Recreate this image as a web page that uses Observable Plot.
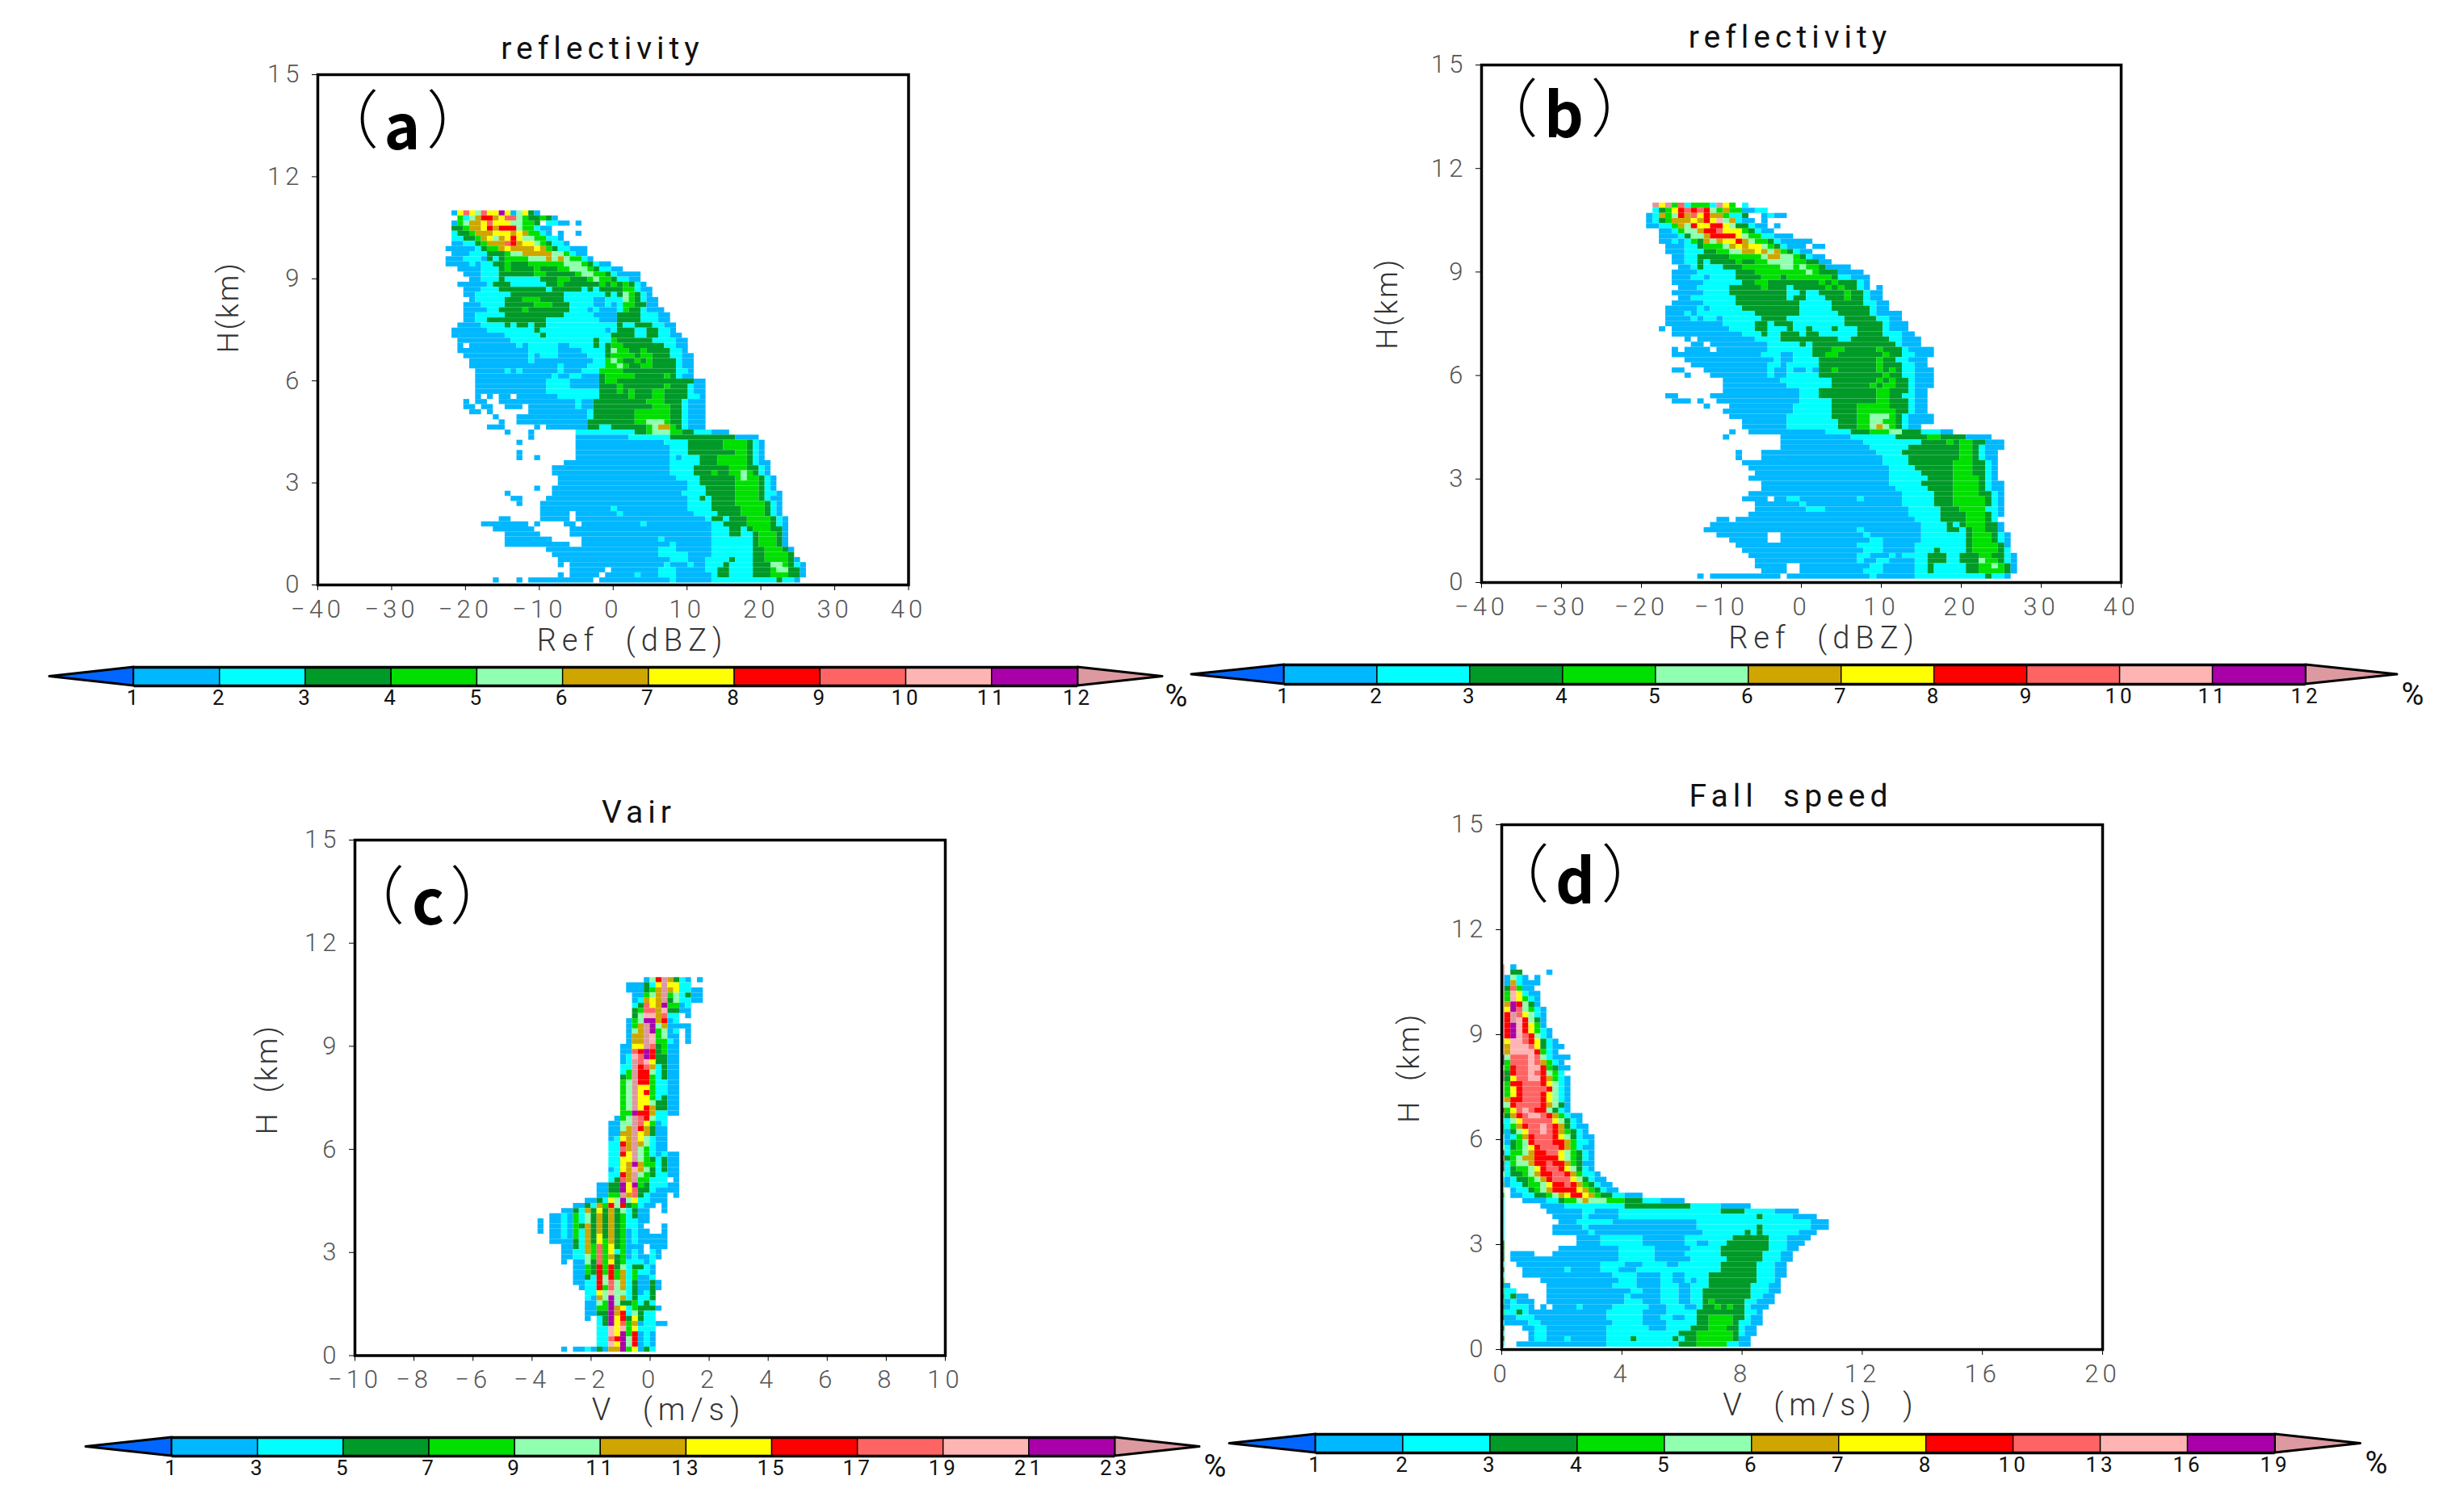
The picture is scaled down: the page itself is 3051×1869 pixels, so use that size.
<!DOCTYPE html>
<html><head><meta charset="utf-8">
<script src="https://cdn.jsdelivr.net/npm/d3@7"></script>
<script src="https://cdn.jsdelivr.net/npm/@observablehq/plot@0.6"></script>
<style>
html,body{margin:0;padding:0;background:#fff}
#page{position:relative;width:3051px;height:1869px;overflow:hidden;background:#fff}
#page svg{position:absolute;background:transparent;overflow:visible}
.tick-lab text{letter-spacing:5px}
.title-lab text{letter-spacing:6px}
.axis-lab text{letter-spacing:7px}
.yaxis-lab text{letter-spacing:2.5px}
.bar-lab text{letter-spacing:4px}
</style></head><body><div id="page"></div>
<script>
// Class colours: a=first band … k=last band, l=above-scale
const classKeys = ["a","b","c","d","e","f","g","h","i","j","k","l"];
const classColors = ["#00b8ff","#00ffff","#009a28","#00e000","#90ffb0","#cfa600","#ffff00","#ff0000","#ff6464","#ffb4b4","#aa00aa","#dd99a0"];
const belowColor = "#0066ff";

const levelsA = [1,2,3,4,5,6,7,8,9,10,11,12];
const levelsB = [1,2,3,4,5,6,7,8,9,10,11,12];
const levelsC = [1,3,5,7,9,11,13,15,17,19,21,23];
const levelsD = [1,2,3,4,5,6,7,8,10,13,16,19];

const ticksRef = [-40,-30,-20,-10,0,10,20,30,40];
const ticksVair = [-10,-8,-6,-4,-2,0,2,4,6,8,10];
const ticksFall = [0,4,8,12,16,20];
const ticksH = [0,3,6,9,12,15];

// Rows listed top (11 km) to bottom. "start a3 b2 ." = run lengths; "25a31b32" = bin edges and classes.
const rowsA = [
"22 a g i g e i g2 k g a e g c a",
"23 d b e f h2 f g i2 e d c2 d c a",
"22 a d e f2 g i g3 e2 d2 c . b2 a2 . a",
"22 c2 d f2 g h f h3 e d2 b a2",
"22 b c2 d f3 g3 f g f d2 b a . a .2 a",
"22 b2 c2 d f g e f g h g e2 d2 b2 a",
"22 a2 b2 c d f3 i h f g2 e d c b2 a",
"21 a5 b c d2 f g f4 g f d c b2 a3",
"22 a3 b3 c3 d e2 f5 e2 d b a2",
"21 a3 b3 a c b c d4 e3 f e f e d2 b a",
"21 a4 b a b2 c2 d c3 d6 e3 d c b a2",
"23 a4 b3 c d c4 d c3 d2 e3 d c b2 a2",
"24 a3 b3 c6 d2 c5 d e2 d2 c b a4",
"25 a2 b3 c b6 c3 d2 c3 d e d2 c b2 a2",
"23 a5 b c3 b6 c2 d c6 d c d c d c b a",
"24 a3 b3 c8 b c5 b c b c4 d2 b a2",
"24 a2 b6 c9 b7 c b c e d c b a",
"25 a b5 c3 d3 c4 b5 a2 b3 e d c b a2",
"24 a3 b4 c5 d3 c3 b4 a2 b a b d2 c2 a2",
"24 a4 b2 c4 d c7 b3 a b a3 b d c2 b a3",
"24 a2 b5 c10 b5 a4 c4 b3 a2",
"24 a2 b2 c10 b9 a3 c4 b3 a2",
"23 a4 b4 c b c2 b c2 b12 c b2 c3 b2 a2",
"22 a6 b8 c b11 a b c3 b2 c2 b2 a",
"22 a9 b6 c b11 c4 b2 c2 b2 a2",
"23 a9 b14 c b2 d c6 b4 a2",
"23 a . a8 b a b5 a2 b4 c b c d2 c7 b2 a2",
"23 a12 b5 a4 b4 c e d2 c2 d c4 b2 a",
"24 a11 b a b3 a5 b3 c d4 c d2 c3 b2 a2",
"25 a10 b a10 b2 d e d c2 d c d c4 b a2",
"25a40b41a45b48d50e51d52c54d56c60b61a63",
"26a31b32a33b34a40b41a44b47d51c60b62a63",
"26a39b40a42b44a47c48d53c58d59c60b61a63",
"26a38b42a47c48d50c63a65",
"26a38b42a47c50d51c58d59c62b63a65",
"26a38b47c50d51c52d53c56d58c62b63a65",
"26a27.28a29.30a32.33a40b47c52d53c56d58c62b64a65",
"24a25.26a28.30a43b44a46c55d58c61b62a65",
"24a26.27a29.31a34.35a43b44a46c56d59c61b62a65",
"25a27.28a29.35a45b46c53d59c61b62a65",
"29a30.33a45b46c53d59c61b62a65",
"30a31.33a45c53d55e58d59c61b62a65",
"28a31.36a37.38a45c47b49c55d56e57f59d60c61b62a65",
"31a32.35a36.43b53c55d56e59d61c63b66a69",
"35a36.43a52b59c70a74",
"33a34.43a58b62c68d72c73b74a75",
"43a59b62c68d72c73b74a75",
"33a34.43a59b62c70d72c73b74a75",
"33a34.36a37.43a59b60a61b64c67d72c73b74a75",
"41a59b64c67d72c73b74a76",
"39a59b63c69d72c74b75a76",
"39a59b63c66d67c69d71e72d73c74b75a76",
"40a60b64c70d71e72d74c75b76a77",
"40a62b64c70d74c75b76a77",
"36a37.39a62b65c70d74c75b76a77",
"31a32.39a61b65c70d74c75b77a78",
"32a34.38a62b64c65b66c70d74c75b76a78",
"33a34.37a62b66c70d75c76b77a78",
"37a49b50a62b66c71d75c76b77a78",
"37a42.43a50b51a63b67c71d75c76b77a78",
"30a32.37a42.43a65b66c68b69c72d76c77b78a79",
"27a35.36a37.41a43.44a54b55a66b68c72d76c77b78a79",
"29a36.42a66b69c71b72c73d76c78a79",
"31a37.42a66b69c71b73c74d77c78a79",
"31a39.44a57b58a66b73c74d77c78a79",
"31a42.44a59b60a66b73c74d77c78a79",
"38a57b60a66b73c75d78c79a80",
"39a57b62a66b73c75d79c80",
"40a59b62a65b69c70b73c75d79c80a81",
"40a41.42a58b59a62b63a65b68c69b73c76e78d79c80b81a82",
"42a48.49a57b60a65b67c69b73c76d77e79c81a82",
"40a41.42a47.48a53b54a57b60a66b67c69b73c76d79c81a82",
"29a30.33a34.35a46.47a59b60a66b77c78b80a81"
];

const rowsB = [
"26 l g l d i b d3 b l g d . b",
"26 b c d g h i h i h e d f d2 a2 b2",
"25 a b f d e h f i g h f2 d b2 c .2 a b a2",
"25 a b c d f3 g f h g j e f b a2 . a",
"25 a2 b2 d f e h g2 h2 g e c2 b a2 . a",
"27 a2 b d e2 f h2 i g3 d c b a2",
"27 a3 b c e2 f h4 g e d2 b2 a3",
"27 a2 b a b d c f e f g2 h f e d2 c b a5",
"28 a3 b2 c d3 e f g f g2 e d c b a3 . a2",
"28 a3 b3 c2 d2 e2 f2 g f e f d c b a2",
"29 a2 b2 c5 d5 e f2 e2 d c b a2",
"29 a2 b2 c b c4 d c2 d2 e4 d2 c2 a2",
"30 a2 b c b3 c3 d6 e2 d e d2 c a4",
"29 a4 b6 c3 d8 e d c3 a4",
"29 a3 b2 a b4 c4 d3 c d7 c b2 a3",
"29 a5 b6 c2 d2 c8 d c d c3 b a",
"30 a3 b5 c5 d c3 b c5 d c d c2 b a . a",
"29 a5 b4 c9 b2 c b2 c4 d c2 b a2",
"30 a2 b7 c8 b c2 b3 c3 d c2 b a2",
"29 a5 b5 c10 b5 c5 b2 a2",
"28 a5 b a b5 c9 b5 c6 b a2",
"28 a3 b a b9 c7 b6 c5 b a4",
"28 a4 b a b2 a b6 c4 b9 c5 b2 a2",
"28 a9 b5 c2 b c3 b8 c6 b a3",
"27 a . a9 b4 c2 b3 c b2 c b3 c b3 c4 b a3",
"29 a11 b3 c b2 c3 b c2 b6 c4 b3 a2",
"31 a . a9 b4 c9 b2 c6 b2 a3",
"32 a2 . a9 b5 c b c13 b a3",
"29a30.31a35.36a44b51c54d56c61d62c65b66a70",
"29a43b46a48b51c53d55c62d63c65b67a70",
"31a45b46a48b52c61d62c64b66a69",
"32a44b46a47b52c61d62c65b67a69",
"29a31.34a44b45a47b48a50b51a52c54d55c61d62c63d64c65b67a70",
"31a32.35a44b45a47b52c62d63c65b67a70",
"37a46b54c61d62c63d64c66b67a70",
"37a47b54c60d61c62d64c66b67a70",
"37a49b52c61d63c66b67a69",
"28a30.35a49b52c61d63c65b67a69",
"29a32.33a34.36a49b54c61d63c66b67a69",
"34a35.38a48b54c58d63c66b67a69",
"37a48b54c58d64c66b67a69",
"38a47b54c58d60e63d64c65b66a70",
"40a47b55c58d60e62d64c65b66a70",
"40a47b55c58d60e61f62e63d64c65b66a68",
"38a39.41a53b57c60d63e65c68b71a73",
"37a38.46a57b64c69d71c75a79",
"46a59b68c72d73c74d76c78a81",
"46a60b66c74d76c77b78a81",
"39a40.43a61b65c74d76c77b78a80",
"39a40.43a62b66c74d76c77b78a80",
"40a62b66c73d76c78b79a80",
"41a63b67c73d76c78b79a80",
"42a63b68c73d76c78b79a80",
"41a63b69c73d77c78b79a80",
"43a63b68c73d77c78b79a81",
"43a64b69c73d77c78b79a81",
"41a65b70c73d77c79b80a81",
"40a44.45a47b49a58b59a65b70c73d78c79b80a81",
"42a49b50a65b70c73d78c79b80a81",
"42a50b53a66b71c74d78b80a81",
"41a66b71c75d78c79b80a81",
"36a38.39a67b71c75d78c79b80",
"35a68b72c73b74c75d78c80a81",
"34a58b59a68b72c74b75c76d78c80a81",
"36a44.46a59b60a68b75c76d79c80b81a82",
"38a44.46a60b62a68b75c76d79c80b81a82",
"39a58b62a67b75c76d80c81a82",
"40a59b62a67b70c71b75c76d80c81b82",
"41a58b60a63b64a65b69c72b74c77d79c81b82a83",
"42a58b59a61b63a67b69c72b74c77e78d80c81b82a83",
"42a47.49a60b62a67b69c70b75c77d79e80d81c82a83",
"43a47.49a59b62a67b69c70b75c77d81c82a83",
"33a34.35a46.47a60b61a67b78c79b81a82"
];

const rowsC = [
"49 a e h l f c b a . a",
"46 a3 c b g l g2 b2",
"46 a3 c d f l f g b2 a2",
"47 a2 d e f l d e b c a2",
"47 a b f g f l c e b2 a2",
"47 b c i g f k d2 a b",
"47 c d i2 f j c2 a2",
"47 c e j2 f i b2 . a",
"46 a d e k2 f h a b",
"46 a d f l k e f a4",
"46 a e f l k d e a b . a",
"46 a f2 l j d e a2 . a",
"46 a f2 l j d2 b a . a",
"45 a2 g2 l i c d a2",
"45 a2 i h k h c d a2",
"45 a b j i k h c2 a2",
"45 a b l i j g c2 a2",
"45 b2 l h i f b c a2",
"45 b d l h2 e b c a2",
"45 c d l h2 d b c a2",
"45 d e l h2 d b2 a2",
"45 d e l g2 d b2 a2",
"45 d e l g h d b2 a2",
"45 d e l g2 d b c a2",
"45 d e l g2 e c2 a2",
"45 d e l g h f c2 a2",
"45 d2 k h2 f b2 a2",
"44 a d e l i h e b2",
"43 a2 e2 l i g d a b",
"43 a2 e f l h f c a2",
"43 a2 f2 l g f c a2",
"43 a b g f l g e b a2",
"43 b2 h f l f e b a2",
"43 b2 i f l e d b a2",
"43 b2 h g l e d b a b a2",
"43 b2 g2 l e d c b c a2",
"43 b2 g f k f d2 b c a2",
"43 a b g f j f e c b c a2",
"43 b2 h f l e d c b2 a2",
"43 b c i f l d2 b3 . a",
"41 a2 c2 k g k d c b3 a2",
"41 a2 c2 k g i c2 b a4",
"41 a2 d2 l f i c b a3 . a",
"39 a2 c b g e k e g b2 a3",
"37 a2 c b f d h e h c d b a2 . a",
"35 a2 c b f c g c f c e b c a2 .2 a",
"33 a2 b a d b e c f c f c d b c a2",
"31 a . a2 b a d b e c f c f c d b2 a2",
"31 a . a2 b a d c f c f c f c d b2 a .3 a",
"31 a . a2 b a d b f c f c f c d a b a2 .2 a",
"33 a2 b a d b f c g c f c d a b a5",
"33 a4 c b f c g d f c d a b a5",
"35 a2 c b f d i d g c d a3 . a3",
"35 a2 b2 f d i d g b d a b a . b a",
"35 a2 b2 e d i d f c d a b a2 b a",
"35 a . a2 e c i d g c d b3 a b",
"37 a2 d c h d h c e b c2 b a",
"37 a2 d c h d h d f b d b2 a",
"37 a2 c b h e h d f b d a2 b",
"37 a2 b2 h e i e f b c a2 c a",
"38 a b2 h d i e f b c a2 c a",
"39 b2 g e j e2 b c a b c",
"39 b a f e k e f b c b2 c",
"39 a2 e d k e c2 d b c b",
"39 a2 d2 k f g b d c3 a",
"39 a2 c2 k f h b e c b2",
"39 a . b c k g h c g c b2",
"41 b c k g i d f a b2 a2",
"41 b2 j g j d g b3",
"41 b2 j g k d h a b a",
"41 b2 i h k e h a b a",
"41 b2 j g k e h a b a",
"35 a . a2 b a c a f2 k d g a c b"
];

const rowsD = [
"0 l . a",
"0 l . c2 .4 a",
"0 l a e b a . a",
"0 l a f b a3",
"0 l c i d a2",
"0 l d j g b a2",
"0 l d j g d b a",
"0 l f k h e c a",
"0 l g k i e d b a",
"0 l h l i g e b a",
"0 l h l j h e c a",
"0 l h k j h g d a",
"0 l h k j h g d b a",
"0 l h k j i h e b a",
"0 l g j2 i h g c b a",
"0 l f j3 i g c b a2",
"0 l f j4 h d b a",
"0 k e i3 j i e b a3",
"0 k d i3 j i f d b a",
"0 j d h i2 j2 h d c a2",
"0 i c h i2 j i h e d b",
"0 i c g i2 j2 h f d b a",
"0 j d h2 i3 h g e b a",
"0 j d g h i4 h e b a",
"0 j d g h i3 h g e b a",
"0 j f h2 i3 h g e b a",
"0 e e h i4 h f e c a",
"0 h d g i j i h2 e c b a",
"0 f c f h i j2 i h f d b a2",
"0 b b e g i5 g e c b a",
"0 d b d f h i2 j i h f c b a2",
"0 d a c e g i2 j i h f d c b a",
"0 e a b d f h i3 h g e c b a2",
"0 e a c d e h i3 h2 f d b2 a",
"0 g b c d e g h i3 h f d b a2",
"0 h b d2 e f h2 i2 g e d c b a",
"0 i c d e f2 h4 g e d c b a",
"0 h b d e2 f h2 i h2 f d c a2",
"0 h b c d2 e g h i2 h g e c b a",
"0 g b c2 d e f h2 i2 h f d b2 a",
"0 b a b c2 d e f h i3 g e c b a2",
"0 f a b2 c d2 e g h2 i h f d c b a2",
"0 e . a b2 c d e f h4 g f d c b a2",
"0 d . a2 b2 c2 d e f g h2 g f d c2 b2 a3",
"0 b .3 a4 b2 c d2 e f e3 d3 c3 b3 a4",
"0b1.7a11b21c32b37a42",
"0b1.8a14b16a20b37c41b46a50",
"0b1.9a14b15a20b43c44b49a53",
"0b1.10a13b19a33b52a55",
"0b1.9a14b15a33b43c44b52a55",
"0b1.9a15b16a34b41c42b43c44b50a53",
"0b1.13a17b24a31b39c45b48a52",
"0c1.13a17b24a31b33a35b38c45b48a51",
"0c1.10a20b26a32b37c45b48a50",
"0c1.2a6.9a20b26a31b37c44b47a49",
"0c1.2a20b26a32b38c44b47a49",
"0b1.3a17b21a24b28a30b37c43b46a48",
"0c1.4a11b12a17b20a23b37c43b46a48",
"0b1.4a19b23a27b29a31b35c43b46a48",
"0d1.7a20b23a27b29a31b32a33b35c43b46a47",
"0c1a2.8a19b23a27b30a32b35c42b45a47",
"0d1b3.8a22b24a27b30a32b34c42b45a47",
"0c1b2c3a5.8a21b22a27b30a32b34c42b44a46",
"0d1a2b3a6.8a21b24a27b30a32b34c35d36c41b43a46",
"0c1a2b5a6.7a8.9a13b14a19b25a28b31a33b34c36d37c38d39c41b42a45",
"0d1b3c4b5a18b24a28b33c41b43a44",
"0c1a3b6a18b24a27b29a31b33c35d39c41b42a44",
"0b1a5b7a19b24a28b33c35d39c40b42a44",
"0c1.4a6b8a18b25a28b32c35d38c40b41a43",
"0b1.5a6b8a18b30c33d39c40b41a43",
"0c1.5a6b8a11b12a18b22c23b29c30b31c33d39c40a42",
"0b1.3a18b30c33d38b40a42"
];

function parseRow(s){
  const runs=[];
  if(s.includes(" ")){
    const t=s.split(" "); let n=+t[0];
    for(const tok of t.slice(1)){
      const k=tok.length>1?+tok.slice(1):1;
      if(tok[0]!==".") runs.push({c:tok[0],n0:n,n1:n+k});
      n+=k;
    }
  } else {
    const m=s.match(/\d+|[a-l.]/g);
    for(let i=0;i+1<m.length;i+=2){
      const n0=+m[i], n1=m[i+2]!==undefined?+m[i+2]:n0+1;
      if(m[i+1]!==".") runs.push({c:m[i+1],n0,n1});
    }
  }
  return runs;
}
function cellsOf(rows,x0,dx,top,bottom,xMin){
  const h=(top-bottom)/rows.length, out=[];
  rows.forEach((s,i)=>{
    for(const r of parseRow(s)) out.push({
      c:r.c,
      x1:Math.max(xMin,x0+dx*r.n0), x2:x0+dx*r.n1,
      y2:top-i*h, y1:top-(i+1)*h
    });
  });
  return out;
}
const colorScale={type:"ordinal",domain:classKeys,range:classColors};
const thin="Roboto, 'Liberation Sans', sans-serif";
const cjk="'Noto Sans CJK SC', sans-serif";
const page=document.getElementById("page");

function place(svg,left,top){svg.style.left=left+"px";svg.style.top=top+"px";page.appendChild(svg);}

function panel(p){
  const mL=190,mR=80,mT=90,mB=100;
  const W=p.right-p.left,H=p.bottom-p.top;
  const at=(px,py)=>({frameAnchor:"top-left",dx:px-p.left,dy:py-p.top,textAnchor:"middle",lineAnchor:"middle"});
  const label=(t,px,py,o)=>Plot.text([t],{text:d=>d,...at(px,py),...o});
  const svg=Plot.plot({
    width:W+mL+mR,height:H+mT+mB,marginLeft:mL,marginRight:mR,marginTop:mT,marginBottom:mB,
    style:{fontFamily:thin,fontWeight:300,background:"transparent",color:"black"},
    x:{domain:p.xDomain},y:{domain:[0,15]},color:colorScale,
    marks:[
      Plot.rect(cellsOf(p.rows,p.x0,p.dx,11,p.bottomH,p.xDomain[0]),{x1:"x1",x2:"x2",y1:"y1",y2:"y2",fill:"c"}),
      Plot.frame({stroke:"black",strokeWidth:3.5}),
      Plot.axisX({ticks:p.xTicks,tickSize:7,tickPadding:11,fontSize:31,label:null,fill:"#555",stroke:"black",className:"tick-lab"}),
      Plot.axisY({ticks:ticksH,tickSize:7,tickPadding:11,fontSize:31,label:null,fill:"#555",stroke:"black",className:"tick-lab"}),
      label(p.title,p.titleX,p.titleY,{fontSize:39,fill:"#111",className:"title-lab",fontWeight:400}),
      label(p.xLabel,p.xLabX,p.xLabY,{fontSize:38,fill:"#333",className:"axis-lab"}),
      label(p.yLabel,p.yLabX,p.yLabY,{fontSize:37,fill:"#333",rotate:-90,className:"yaxis-lab"}),
      label("（",p.tagX[0]-26,p.tagY,{fontSize:78,fontFamily:cjk,fontWeight:300,fill:"black"}),
      label(p.tag,p.tagX[1],p.tagY+8,{fontSize:76,fontFamily:cjk,fontWeight:700,fill:"black"}),
      label("）",p.tagX[2]+26,p.tagY,{fontSize:78,fontFamily:cjk,fontWeight:300,fill:"black"})
    ]
  });
  place(svg,p.left-mL,p.top-mT);
}

function colorbar(b,levels){
  const cell=(b.last-b.first)/(levels.length-1);
  const mT=5,mB=44,mL=8,mR=70,barH=b.bottom-b.top;
  const tipL=(b.first-b.tipL)/cell, tipR=(b.tipR-b.last)/cell, n=levels.length-1;
  const cells=d3.range(n).map(i=>({i,c:classKeys[i]}));
  const svg=Plot.plot({
    width:b.tipR-b.tipL+mL+mR,height:barH+mT+mB,marginLeft:mL,marginRight:mR,marginTop:mT,marginBottom:mB,
    style:{fontFamily:thin,fontWeight:400,background:"transparent",color:"black"},
    x:{domain:[-tipL,n+tipR],axis:null},y:{domain:[0,1],axis:null},color:colorScale,
    marks:[
      Plot.areaY([{x:-tipL,a:.5,b:.5},{x:0,a:0,b:1}],{x:"x",y1:"a",y2:"b",fill:belowColor,stroke:"black",strokeWidth:3}),
      Plot.areaY([{x:n,a:0,b:1},{x:n+tipR,a:.5,b:.5}],{x:"x",y1:"a",y2:"b",fill:classColors[11],stroke:"black",strokeWidth:3}),
      Plot.rect(cells,{x1:"i",x2:d=>d.i+1,y1:()=>0,y2:()=>1,fill:"c",stroke:"black",strokeWidth:1.4}),
      Plot.ruleY([0,1],{x1:()=>0,x2:()=>n,stroke:"black",strokeWidth:3.5}),
      Plot.text(levels,{x:(d,i)=>i,text:d=>String(d),frameAnchor:"bottom",dy:23,fontSize:26,fill:"#111",className:"bar-lab"}),
      Plot.text(["%"],{x:()=>n+tipR,text:d=>d,frameAnchor:"bottom",dy:25,dx:b.pct-b.tipR,fontSize:38,fill:"#111"})
    ]
  });
  place(svg,b.tipL-mL,b.top-mT);
}

panel({left:392.5,right:1124,top:92,bottom:724,rows:rowsA,x0:-39.44,dx:.8,bottomH:.06,xDomain:[-40,40],xTicks:ticksRef,
  title:"reflectivity",titleX:745,titleY:60,xLabel:"Ref  (dBZ)",xLabX:782,xLabY:793,yLabel:"H(km)",yLabX:282,yLabY:380,tag:"a",tagX:[455,497,540],tagY:152});
panel({left:1834,right:2626,top:79.5,bottom:720.5,rows:rowsB,x0:-39.37,dx:.8,bottomH:.1,xDomain:[-40,40],xTicks:ticksRef,
  title:"reflectivity",titleX:2216,titleY:46,xLabel:"Ref  (dBZ)",xLabX:2258,xLabY:790,yLabel:"H(km)",yLabX:1718,yLabY:375,tag:"b",tagX:[1891,1936,1982],tagY:137});
panel({left:438.5,right:1169.5,top:1039.5,bottom:1678,rows:rowsC,x0:-10,dx:.2,bottomH:.1,xDomain:[-10,10],xTicks:ticksVair,
  title:"Vair",titleX:790,titleY:1006,xLabel:"V  (m/s)",xLabX:827,xLabY:1746,yLabel:"H  (km)",yLabX:330,yLabY:1336,tag:"c",tagX:[487,529,569],tagY:1112});
panel({left:1859,right:2603,top:1021,bottom:1671,rows:rowsD,x0:-.1,dx:.2,bottomH:.07,xDomain:[0,20],xTicks:ticksFall,
  title:"Fall  speed",titleX:2217,titleY:986,xLabel:"V  (m/s)  )",xLabX:2254,xLabY:1740,yLabel:"H  (km)",yLabX:1745,yLabY:1322,tag:"d",tagX:[1905,1950,1995],tagY:1086});

colorbar({tipL:61,first:165.5,last:1334,tipR:1439,top:826,bottom:849,pct:1456},levelsA);
colorbar({tipL:1475,first:1590,last:2854.5,tipR:2968,top:823,bottom:847,pct:2987},levelsB);
colorbar({tipL:106,first:212.7,last:1380,tipR:1485,top:1780,bottom:1803,pct:1504},levelsC);
colorbar({tipL:1522,first:1629,last:2816.5,tipR:2922.5,top:1776,bottom:1799,pct:2942},levelsD);
</script></body></html>
